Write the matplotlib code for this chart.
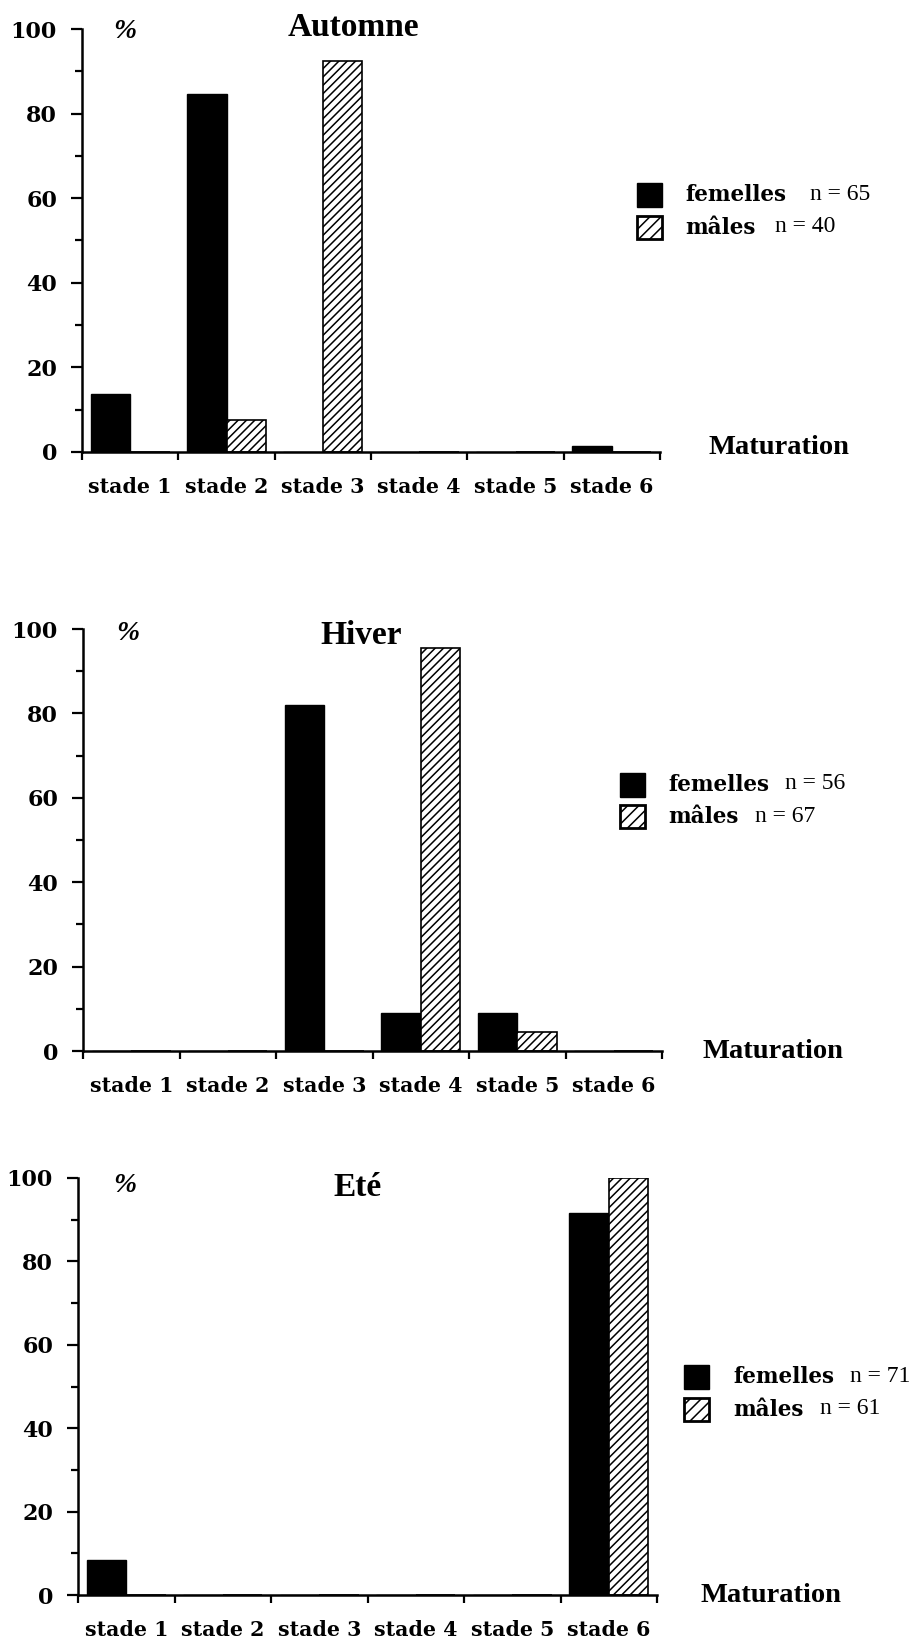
import matplotlib
matplotlib.use("Agg")
import matplotlib.pyplot as plt
from matplotlib.patches import Rectangle
import numpy as np

plt.rcParams['hatch.linewidth'] = 1.1

# Données (% par stade de maturation)
stades = ['stade 1', 'stade 2', 'stade 3', 'stade 4', 'stade 5', 'stade 6']
saisons = ['Automne', 'Hiver', 'Eté']

automne_femelles = [13.8, 84.6, 0, 0, 0, 1.5]
automne_males = [0, 7.5, 92.5, 0, 0, 0]
hiver_femelles = [0, 0, 82.1, 8.9, 8.9, 0]
hiver_males = [0, 0, 0, 95.5, 4.5, 0]
ete_femelles = [8.5, 0, 0, 0, 0, 91.5]
ete_males = [0, 0, 0, 0, 0, 100]

n_femelles = [65, 56, 71]
n_males = [40, 67, 61]

W, H = 921, 1646
fig = plt.figure(figsize=(W / 100, H / 100), dpi=100)

# positions en pixels (gauche, droite, haut, bas) de chaque panneau
cadres = [(82, 660, 29, 452), (83, 662, 629, 1051), (78, 657, 1178, 1595)]
# légende : x carré, y haut femelles, y haut mâles, x texte, x n fem, x n mâles
legendes = [(637, 183, 216, 685, 810, 775),
            (620, 773, 805, 668, 785, 755),
            (684, 1365, 1398, 733, 850, 820)]
titres_x = [353, 361, 358]
titres_y = [27, 635, 1187]
pct_xy = [(125, 32), (128, 633), (125, 1185)]
matur_xy = [(708, 447), (702, 1052), (700, 1595)]

donnees = [(automne_femelles, automne_males),
           (hiver_femelles, hiver_males),
           (ete_femelles, ete_males)]

serif_b = dict(family='DejaVu Serif', weight='bold')
times_b = dict(family='Liberation Serif', weight='bold')


def fx(px):
    return px / W


def fy(py):
    return 1 - py / H


x = np.arange(len(stades)) + 0.5
w = 0.41

for k, (fem, mal) in enumerate(donnees):
    l, r, t, b = cadres[k]
    ax = fig.add_axes([fx(l), fy(b), fx(r) - fx(l), (b - t) / H])
    ax.bar(x - w / 2, fem, w, color='black', edgecolor='black', linewidth=1)
    ax.bar(x + w / 2, mal, w, color='white', edgecolor='black', linewidth=1.2,
           hatch='////')
    ax.set_xlim(0, 6)
    ax.set_ylim(0, 100)
    for s in ['top', 'right']:
        ax.spines[s].set_visible(False)
    for s in ['left', 'bottom']:
        ax.spines[s].set_linewidth(1.8)

    ax.set_yticks(np.arange(0, 101, 20))
    ax.set_yticks(np.arange(10, 100, 20), minor=True)
    ax.tick_params(axis='y', which='major', length=8, width=1.6, pad=10)
    ax.tick_params(axis='y', which='minor', length=5, width=1.6)
    for lab in ax.get_yticklabels():
        lab.set(fontsize=16, **serif_b)

    ax.set_xticks(np.arange(0, 7))
    ax.set_xticklabels([])
    ax.set_xticks(x, minor=True)
    ax.set_xticklabels(stades, minor=True, fontsize=14.8, **serif_b)
    ax.tick_params(axis='x', which='major', length=6, width=1.6)
    ax.tick_params(axis='x', which='minor', length=0, pad=18)

    fig.text(fx(titres_x[k]), fy(titres_y[k]), saisons[k], ha='center',
             va='center', fontsize=24, **times_b)
    fig.text(fx(pct_xy[k][0]), fy(pct_xy[k][1]), '%', ha='center', va='center',
             fontsize=20, family='Liberation Serif', weight='bold', style='italic')
    fig.text(fx(matur_xy[k][0]), fy(matur_xy[k][1]), 'Maturation', ha='left',
             va='center', fontsize=20.5, **times_b)

    sx, yf, ym, tx, nfx, nmx = legendes[k]
    fig.patches.append(Rectangle((fx(sx), fy(yf + 24)), 25 / W, 24 / H,
                                 transform=fig.transFigure, facecolor='black',
                                 edgecolor='black', linewidth=1))
    fig.patches.append(Rectangle((fx(sx), fy(ym + 23)), 25 / W, 23 / H,
                                 transform=fig.transFigure, facecolor='white',
                                 edgecolor='black', linewidth=2, hatch='///'))
    fig.text(fx(tx), fy(yf + 12), 'femelles', va='center', fontsize=15.5, **serif_b)
    fig.text(fx(tx), fy(ym + 12), 'mâles', va='center', fontsize=15.5, **serif_b)
    fig.text(fx(nfx), fy(yf + 11), f'n = {n_femelles[k]}', va='center',
             fontsize=17, family='Liberation Serif')
    fig.text(fx(nmx), fy(ym + 11), f'n = {n_males[k]}', va='center',
             fontsize=17, family='Liberation Serif')

fig.savefig('out.png', dpi=100)
